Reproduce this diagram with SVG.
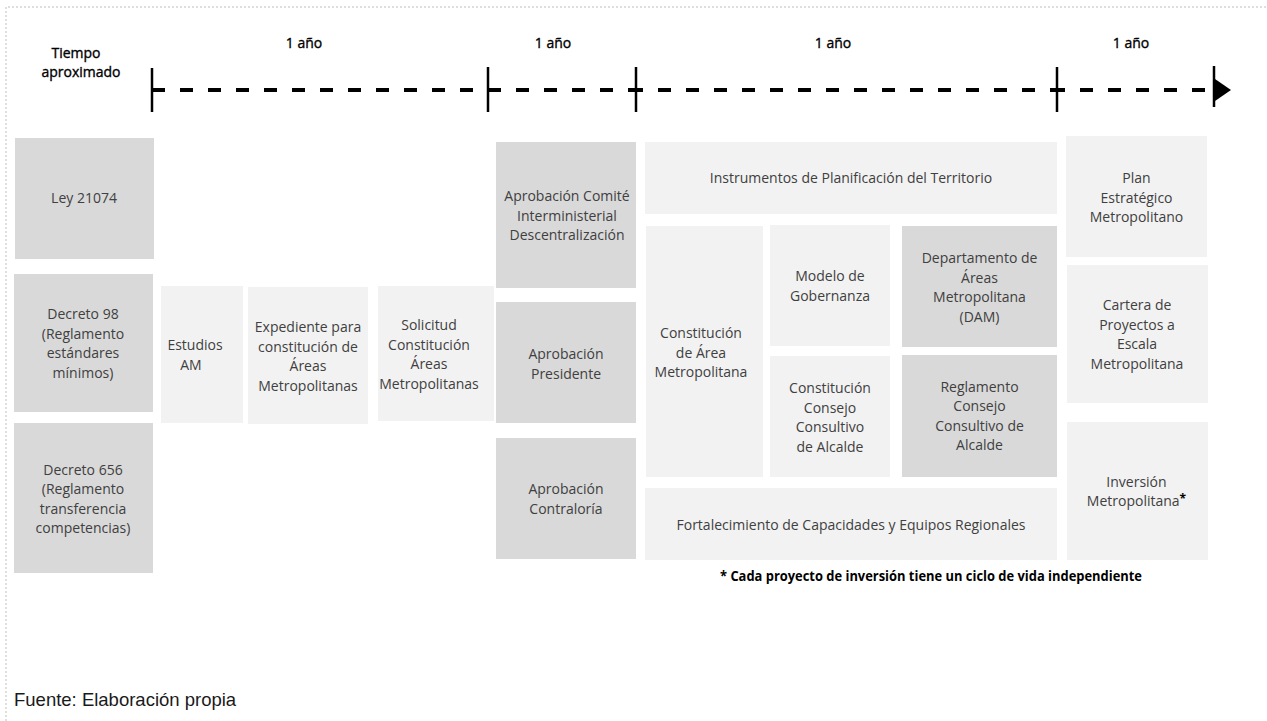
<svg xmlns="http://www.w3.org/2000/svg" width="1267" height="721" viewBox="0 0 1267 721">
<style>
.dk{fill:#d9d9d9}
.lt{fill:#f2f2f2}
.t{font-family:"Open Sans","Noto Sans",sans-serif;font-size:14px;fill:#404040;text-anchor:middle}
.hd{font-family:"Open Sans","Noto Sans",sans-serif;font-size:14px;fill:#000;stroke:#000;stroke-width:0.35;text-anchor:middle}
.tick{stroke:#000;stroke-width:2.5}
.dash{stroke:#000;stroke-width:4;stroke-dasharray:13 15;fill:none}
.frame{stroke:#bfbfbf;stroke-width:1;stroke-dasharray:2 2;fill:none}
</style>
<rect width="1267" height="721" fill="#fff"/>
<path class="frame" d="M6 721 V7 H1267"/>

<g id="header">
<text class="hd" x="76" y="58">Tiempo</text>
<text class="hd" x="81" y="77">aproximado</text>
<text class="hd" x="304" y="48">1 año</text>
<text class="hd" x="553" y="48">1 año</text>
<text class="hd" x="833" y="48">1 año</text>
<text class="hd" x="1131" y="48">1 año</text>
</g>

<g id="timeline">
<path class="dash" d="M152 90 H488"/>
<path class="dash" d="M488 90 H636"/>
<path class="dash" d="M630 90 H1058"/>
<path class="dash" d="M1052 90 H1213"/>
<line class="tick" x1="152" y1="68" x2="152" y2="112"/>
<line class="tick" x1="488" y1="67" x2="488" y2="112"/>
<line class="tick" x1="636" y1="67" x2="636" y2="112"/>
<line class="tick" x1="1057" y1="67" x2="1057" y2="112"/>
<line class="tick" x1="1214" y1="66" x2="1214" y2="107"/>
<polygon points="1215,79 1231,90 1215,101" fill="#000"/>
</g>

<g id="ley"><rect class="dk" x="15" y="138" width="139" height="121"/>
<text class="t" x="84" y="203">Ley 21074</text></g>

<g id="decreto98"><rect class="dk" x="14" y="274" width="139" height="138"/>
<text class="t"><tspan x="83" y="319">Decreto 98</tspan><tspan x="83" y="338.5">(Reglamento</tspan><tspan x="83" y="358">estándares</tspan><tspan x="83" y="377.5">mínimos)</tspan></text></g>

<g id="decreto656"><rect class="dk" x="14" y="423" width="139" height="150"/>
<text class="t"><tspan x="83" y="474.5">Decreto 656</tspan><tspan x="83" y="494">(Reglamento</tspan><tspan x="83" y="513.5">transferencia</tspan><tspan x="83" y="533">competencias)</tspan></text></g>

<g id="estudios"><rect class="lt" x="161" y="286" width="82" height="137"/>
<text class="t"><tspan x="195" y="350">Estudios</tspan><tspan x="191" y="370">AM</tspan></text></g>

<g id="expediente"><rect class="lt" x="248" y="287" width="120" height="137"/>
<text class="t"><tspan x="308" y="332">Expediente para</tspan><tspan x="308" y="351.5">constitución de</tspan><tspan x="308" y="371">Áreas</tspan><tspan x="308" y="390.5">Metropolitanas</tspan></text></g>

<g id="solicitud"><rect class="lt" x="378" y="286" width="116" height="135"/>
<text class="t"><tspan x="429" y="330">Solicitud</tspan><tspan x="429" y="349.5">Constitución</tspan><tspan x="429" y="369">Áreas</tspan><tspan x="429" y="388.5">Metropolitanas</tspan></text></g>

<g id="comite"><rect class="dk" x="496" y="142" width="140" height="146"/>
<text class="t"><tspan x="567" y="201">Aprobación Comité</tspan><tspan x="567" y="220.5">Interministerial</tspan><tspan x="567" y="240">Descentralización</tspan></text></g>

<g id="presidente"><rect class="dk" x="496" y="302" width="140" height="121"/>
<text class="t"><tspan x="566" y="359">Aprobación</tspan><tspan x="566" y="378.5">Presidente</tspan></text></g>

<g id="contraloria"><rect class="dk" x="496" y="438" width="140" height="121"/>
<text class="t"><tspan x="566" y="494">Aprobación</tspan><tspan x="566" y="513.5">Contraloría</tspan></text></g>

<g id="instrumentos"><rect class="lt" x="645" y="142" width="412" height="72"/>
<text class="t" x="851" y="183">Instrumentos de Planificación del Territorio</text></g>

<g id="constitucion-area"><rect class="lt" x="646" y="226" width="117" height="251"/>
<text class="t"><tspan x="701" y="338">Constitución</tspan><tspan x="701" y="357.5">de Área</tspan><tspan x="701" y="377">Metropolitana</tspan></text></g>

<g id="modelo"><rect class="lt" x="770" y="225" width="120" height="121"/>
<text class="t"><tspan x="830" y="281">Modelo de</tspan><tspan x="830" y="300.5">Gobernanza</tspan></text></g>

<g id="constitucion-consejo"><rect class="lt" x="770" y="356" width="120" height="121"/>
<text class="t"><tspan x="830" y="393">Constitución</tspan><tspan x="830" y="412.5">Consejo</tspan><tspan x="830" y="432">Consultivo</tspan><tspan x="830" y="451.5">de Alcalde</tspan></text></g>

<g id="dam"><rect class="dk" x="902" y="226" width="155" height="121"/>
<text class="t"><tspan x="979.5" y="263">Departamento de</tspan><tspan x="979.5" y="282.5">Áreas</tspan><tspan x="979.5" y="302">Metropolitana</tspan><tspan x="979.5" y="321.5">(DAM)</tspan></text></g>

<g id="reglamento"><rect class="dk" x="902" y="355" width="155" height="122"/>
<text class="t"><tspan x="979.5" y="391.5">Reglamento</tspan><tspan x="979.5" y="411">Consejo</tspan><tspan x="979.5" y="430.5">Consultivo de</tspan><tspan x="979.5" y="450">Alcalde</tspan></text></g>

<g id="fortalecimiento"><rect class="lt" x="645" y="488" width="412" height="72"/>
<text class="t" x="851" y="529.5">Fortalecimiento de Capacidades y Equipos Regionales</text></g>

<g id="plan"><rect class="lt" x="1066" y="136" width="141" height="121"/>
<text class="t"><tspan x="1136.5" y="183">Plan</tspan><tspan x="1136.5" y="202.5">Estratégico</tspan><tspan x="1136.5" y="222">Metropolitano</tspan></text></g>

<g id="cartera"><rect class="lt" x="1067" y="265" width="141" height="138"/>
<text class="t"><tspan x="1137" y="310">Cartera de</tspan><tspan x="1137" y="329.5">Proyectos a</tspan><tspan x="1137" y="349">Escala</tspan><tspan x="1137" y="368.5">Metropolitana</tspan></text></g>

<g id="inversion"><rect class="lt" x="1067" y="422" width="141" height="138"/>
<text class="t"><tspan x="1136.5" y="486.5">Inversión</tspan><tspan x="1136.5" y="506">Metropolitana<tspan font-weight="bold" fill="#000" font-size="12" dy="-3">*</tspan></tspan></text></g>

<g id="notes">
<text x="931" y="581" font-family="Open Sans, Noto Sans, sans-serif" font-size="13.5" font-weight="bold" fill="#000" text-anchor="middle" textLength="422" lengthAdjust="spacingAndGlyphs">* Cada proyecto de inversión tiene un ciclo de vida independiente</text>
<text x="14" y="706" font-family="Liberation Sans, Arial, sans-serif" font-size="18.5" fill="#1a1a1a">Fuente: Elaboración propia</text>
</g>
</svg>
